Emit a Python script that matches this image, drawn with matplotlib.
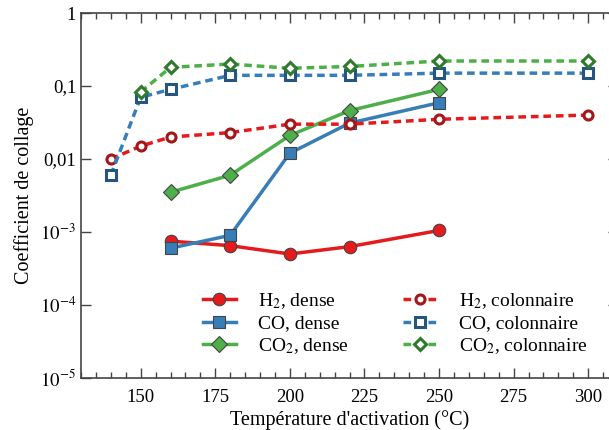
import matplotlib

matplotlib.use("Agg")
import matplotlib.pyplot as plt  # noqa: E402
from matplotlib.ticker import FixedLocator, FuncFormatter, MultipleLocator, NullLocator  # noqa: E402

plt.rcParams["font.family"] = ["Liberation Serif", "DejaVu Serif"]
plt.rcParams["mathtext.fontset"] = "stix"

RED = "#e41a1c"
BLUE = "#377eb8"
GREEN = "#4daf4a"
DARK = {RED: "#a3161a", BLUE: "#26567f", GREEN: "#2f7a2d"}

# dense films
t_dense = [160, 180, 200, 220, 250]
h2_dense = [0.00075, 0.00065, 0.0005, 0.00063, 0.00105]
co_dense = [0.0006, 0.0009, 0.012, 0.031, 0.059]
co2_dense = [0.0035, 0.006, 0.021, 0.046, 0.09]

# columnar films
t_col = [140, 150, 160, 180, 200, 220, 250, 300]
h2_col = [0.010, 0.015, 0.020, 0.023, 0.030, 0.030, 0.035, 0.040]
co_col = [0.006, 0.07, 0.09, 0.14, 0.14, 0.14, 0.15, 0.15]
t_co2_col = [150, 160, 180, 200, 220, 250, 300]
co2_col = [0.083, 0.18, 0.20, 0.175, 0.185, 0.22, 0.22]

fig = plt.figure(figsize=(6.09, 4.30), dpi=100)
ax = fig.add_axes([81 / 609, 52 / 430, 537 / 609, 365 / 430])

for y, c, m, lab in [
    (h2_dense, RED, "o", r"H$_2$, dense"),
    (co_dense, BLUE, "s", "CO, dense"),
    (co2_dense, GREEN, "D", r"CO$_2$, dense"),
]:
    ax.plot(t_dense, y, color=c, lw=2.5, marker=m, ms=9 if m != "D" else 8,
            mfc=c, mec="#444444", mew=0.8, label=lab)

for x, y, c, m, lab in [
    (t_col, h2_col, RED, "o", r"H$_2$, colonnaire"),
    (t_col, co_col, BLUE, "s", "CO, colonnaire"),
    (t_co2_col, co2_col, GREEN, "D", r"CO$_2$, colonnaire"),
]:
    ax.plot(x, y, color=c, lw=2.5, ls=(0, (2.2, 1.4)), marker=m, ms=6.5,
            mfc="white", mec=DARK[c], mew=2.2, label=lab)

ax.set_yscale("log")
ax.set_ylim(1e-5, 1)
ax.set_xlim(130, 310)

labels = {1: "1", 0.1: "0,1", 0.01: "0,01", 1e-3: r"$10^{-3}$",
          1e-4: r"$10^{-4}$", 1e-5: r"$10^{-5}$"}
ax.yaxis.set_major_locator(FixedLocator(list(labels)))
ax.yaxis.set_minor_locator(NullLocator())
ax.yaxis.set_major_formatter(FuncFormatter(lambda v, p: labels.get(round(v, 6), "")))
ax.xaxis.set_major_locator(MultipleLocator(25))
ax.xaxis.set_minor_locator(MultipleLocator(5))

ax.tick_params(axis="both", which="both", direction="in", top=True, right=True,
               labelsize=13.5, color="#444444")
ax.tick_params(which="major", length=7, width=1)
ax.tick_params(which="minor", length=4, width=1)
ax.tick_params(axis="x", pad=8)
for s in ax.spines.values():
    s.set_color("#444444")
    s.set_linewidth(1.2)

ax.set_xlabel("Température d'activation (°C)", fontsize=14.5, labelpad=3)
ax.set_ylabel("Coefficient de collage", fontsize=14.5, labelpad=4)

ax.legend(ncol=2, loc="lower left", bbox_to_anchor=(0.194, 0.012), frameon=False,
          fontsize=14, handlelength=1.7, columnspacing=2.8, labelspacing=0.2,
          handletextpad=1.15)

fig.savefig("out.png", dpi=100)
